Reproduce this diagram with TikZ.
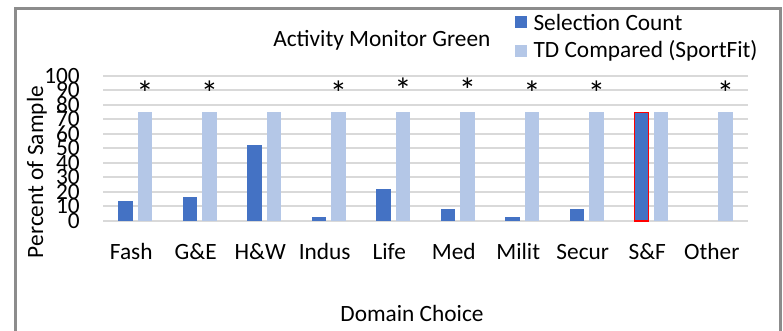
\documentclass[tikz,border=0pt]{standalone}
\usepackage{fontspec}
\setmainfont{Carlito}
\usetikzlibrary{positioning}
\definecolor{selblue}{HTML}{4472C4}
\definecolor{tdblue}{HTML}{B4C7E7}
\definecolor{gridgray}{HTML}{D9D9D9}
\definecolor{framegray}{HTML}{8C8C8C}
\tikzstyle{txt} = [inner sep=0pt, font=\fontsize{17.5}{20}\selectfont]
\tikzstyle{startxt} = [inner sep=0pt, font=\fontsize{26}{28}\selectfont]
\tikzstyle{gridline} = [draw=gridgray, line width=1.5pt]
\tikzstyle{selbar} = [fill=selblue]
\tikzstyle{tdbar} = [fill=tdblue]
\tikzstyle{sfbar} = [fill=selblue, draw=red, line width=1.1pt]
\tikzstyle{keybox} = [rectangle, inner sep=0pt, minimum size=9pt]

\begin{document}
\begin{tikzpicture}[x=0.75pt,y=-0.75pt]
	\useasboundingbox (0,0) rectangle (783,331);
	% outer chart frame
	\draw[framegray, line width=2.25pt] (15.5,331) -- (15.5,8.5) -- (780.5,8.5) -- (780.5,331);
	
	% value grid and tick labels
	\foreach \v in {0,10,...,100}{
		\draw[gridline] (103,{221-1.45*\v}) -- (748,{221-1.45*\v});
		\node[txt, anchor=east] (y\v) at (80,{221-1.45*\v}) {\v};
	}
	
	% bars, domain names and stars (star baseline 0 = none)
	\foreach \name/\sel/\sty/\sy [count=\i from 0] in {Fash/13.8/selbar/106, G\&E/16.6/selbar/106, H\&W/52.4/selbar/0, Indus/2.8/selbar/106, Life/22/selbar/103, Med/8.1/selbar/103, Milit/2.6/selbar/106, Secur/8.3/selbar/106, S\&F/75/sfbar/0, Other/0/selbar/106}{
		\pgfmathsetmacro\cx{103+64.5*(\i+0.5)}
		\ifdim\sel pt>0pt
			\path[\sty] ({\cx-17},221) rectangle ({\cx-2.5},{221-1.45*\sel});
		\fi
		\path[tdbar] ({\cx+2.5},221) rectangle ({\cx+17},{221-1.45*75});
		\node[txt, anchor=base] (c\i) at ({\cx-4},260) {\name};
		\ifnum\sy>0
			\node[startxt, anchor=base] (s\i) at ({\cx+9.75},\sy) {*};
		\fi
	}
	
	% titles
	\node[txt, anchor=base west] (title) at (273,47) {Activity Monitor Green};
	\node[txt, anchor=base, rotate=90] (ytitle) at (43,172) {Percent of Sample};
	\node[txt, anchor=base] (xtitle) at (412,322) {Domain Choice};
	
	% legend
	\node[keybox, fill=selblue] (k1) at (521,22) {};
	\node[keybox, fill=tdblue] (k2) at (521,51) {};
	\node[txt, right=4.5pt of k1] (key1) {Selection Count};
	\node[txt, right=4.5pt of k2] (key2) {TD Compared (SportFit)};
\end{tikzpicture}
\end{document}
